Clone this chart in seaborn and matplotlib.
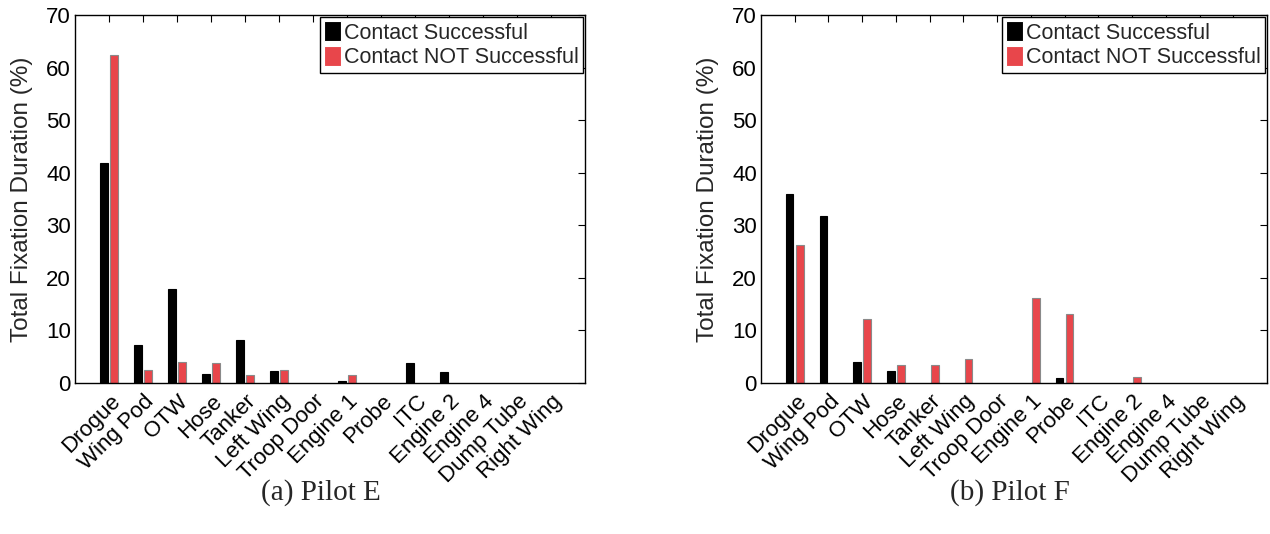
import numpy as np
import pandas as pd
import matplotlib
matplotlib.use("Agg")
import matplotlib.pyplot as plt
import matplotlib.transforms as mtransforms
import seaborn as sns

regions = ["Drogue", "Wing Pod", "OTW", "Hose", "Tanker", "Left Wing", "Troop Door",
           "Engine 1", "Probe", "ITC", "Engine 2", "Engine 4", "Dump Tube", "Right Wing"]
outcomes = ["Contact Successful", "Contact NOT Successful"]

pilot_e_success = [41.9, 7.3, 17.9, 1.7, 8.2, 2.2, 0.0, 0.45, 0.0, 3.8, 2.0, 0.0, 0.0, 0.0]
pilot_e_fail = [62.3, 2.4, 3.9, 3.8, 1.6, 2.4, 0.0, 1.6, 0.0, 0.0, 0.0, 0.0, 0.0, 0.0]
pilot_f_success = [36.0, 31.8, 4.0, 2.3, 0.0, 0.0, 0.0, 0.0, 0.95, 0.0, 0.0, 0.0, 0.0, 0.0]
pilot_f_fail = [26.3, 0.0, 12.2, 3.4, 3.4, 4.6, 0.0, 16.1, 13.2, 0.0, 1.1, 0.0, 0.0, 0.0]

captions = ["(a) Pilot E", "(b) Pilot F"]
ylabel = "Total Fixation Duration (%)"
yticks = list(range(0, 71, 10))

colors = ["#000000", "#E8464B"]
edge_colors = ["#000000", "#8a8a8a"]

sns.set_theme(style="white")
plt.rcParams["font.family"] = ["Liberation Sans", "DejaVu Sans"]


def long_frame(success, fail):
    return pd.DataFrame({
        "Region": regions * 2,
        "Outcome": [outcomes[0]] * len(regions) + [outcomes[1]] * len(regions),
        "Duration": list(success) + list(fail),
    })


fig = plt.figure(figsize=(12.70, 5.34), dpi=100)
axes_rects = [
    [75 / 1270, 1 - 383 / 534, 510 / 1270, 368 / 534],
    [761 / 1270, 1 - 383 / 534, 506 / 1270, 368 / 534],
]
caption_x = [321 / 1270, 1010 / 1270]
datasets = [(pilot_e_success, pilot_e_fail), (pilot_f_success, pilot_f_fail)]

for rect, (succ, fail), caption, cx in zip(axes_rects, datasets, captions, caption_x):
    ax = fig.add_axes(rect)
    df = long_frame(succ, fail)
    sns.barplot(data=df, x="Region", y="Duration", hue="Outcome", order=regions,
                hue_order=outcomes, palette=colors, width=0.6, gap=0.25,
                errorbar=None, ax=ax, saturation=1, linewidth=0.8)
    for cont, ec in zip(ax.containers, edge_colors):
        for bar in cont:
            bar.set_edgecolor(ec)
            if bar.get_height() == 0:
                bar.set_visible(False)

    ax.set_xlim(-1, len(regions))
    ax.set_ylim(0, 70)
    ax.set_yticks(yticks)
    ax.set_xlabel("")
    ax.set_ylabel(ylabel, fontsize=17.5, labelpad=9)
    for s in ax.spines.values():
        s.set_visible(True)
        s.set_color("black")
        s.set_linewidth(1.0)
    ax.tick_params(direction="in", top=True, right=True, length=5, width=0.8,
                   colors="black", labelsize=16, pad=3)
    ax.tick_params(axis="x", pad=11)
    ax.set_xticks(range(len(regions)))
    ax.set_xticklabels(regions, rotation=45, ha="right", rotation_mode="anchor", va="center")
    shift = mtransforms.ScaledTranslation(8 / 100, 0, fig.dpi_scale_trans)
    for lbl in ax.get_xticklabels():
        lbl.set_transform(lbl.get_transform() + shift)

    leg = ax.legend(loc="upper right", fontsize=15.5, frameon=True, fancybox=False,
                    edgecolor="black", framealpha=1, borderpad=0.2, borderaxespad=0.1,
                    handlelength=0.8, handleheight=1.05, handletextpad=0.12,
                    labelspacing=0.1)
    leg.get_frame().set_linewidth(1.0)

    fig.text(cx, 1 - 493 / 534, caption, ha="center", va="center",
             family=["Liberation Serif", "DejaVu Serif"], fontsize=21)

fig.savefig("out.png", dpi=100, facecolor="white")
